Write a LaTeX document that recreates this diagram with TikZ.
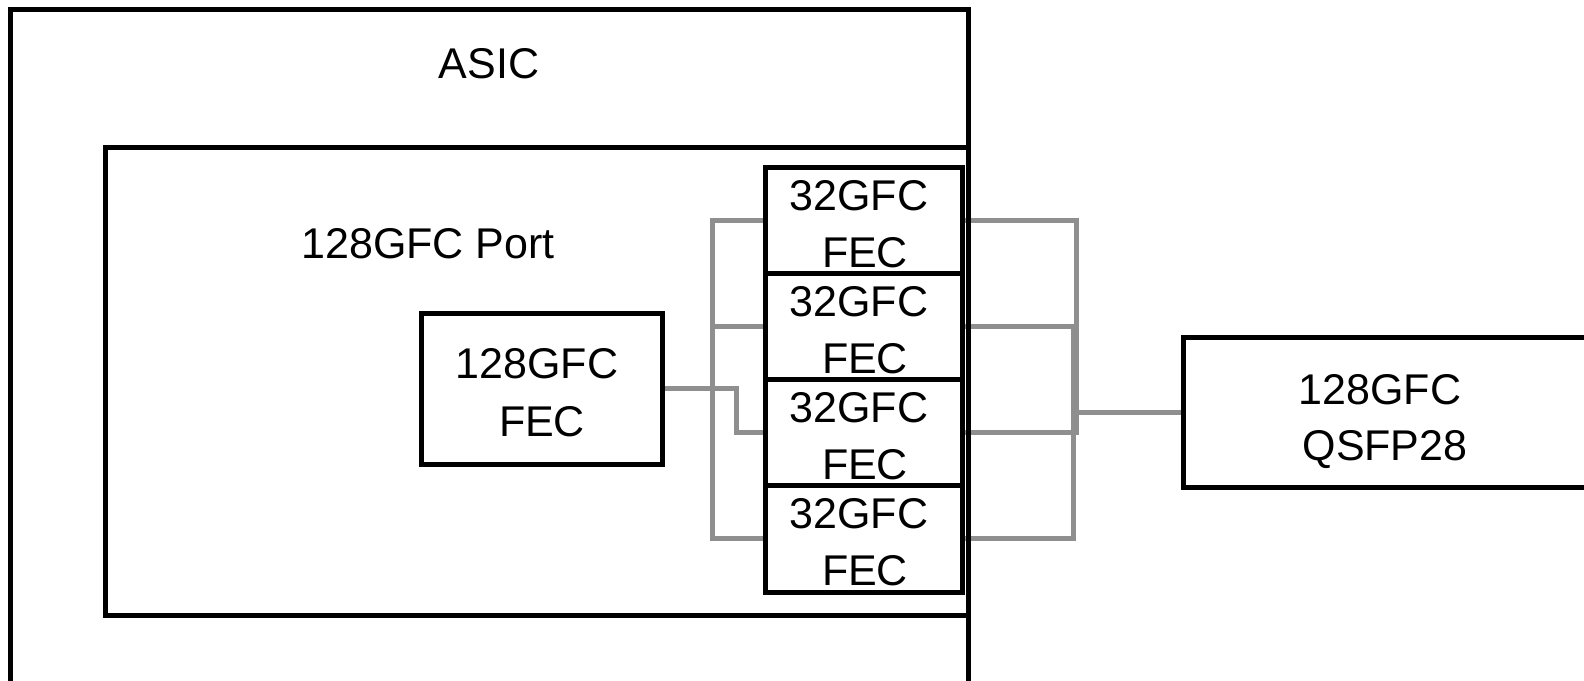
\documentclass[tikz,border=0pt]{standalone}
\usepackage{fontspec}
\setmainfont{Liberation Sans}
\usetikzlibrary{backgrounds}
\definecolor{wiregray}{RGB}{143,143,143}
\begin{document}
\begin{tikzpicture}[x=1pt,y=-1pt,
  box/.style={draw=black, line width=5pt, rectangle, inner sep=0pt, outer sep=0pt},
  wire/.style={draw=wiregray, line width=5pt},
  txt/.style={font=\fontsize{43}{52}\selectfont, inner sep=0pt, anchor=base}]
\useasboundingbox (0,0) rectangle (1584,680);
% boxes
\node[box, minimum width=958, minimum height=700] (asic) at (489.5,359.5) {};
\node[box, minimum width=863.5, minimum height=468] (port) at (536.75,381) {};
\node[box, minimum width=241, minimum height=151] (fec128) at (541.5,388.5) {};
\foreach \i [evaluate=\i as \yc using 220.125+106.25*(\i-1)] in {1,...,4}
  \node[box, minimum width=197, minimum height=106.25] (f\i) at (863.5,\yc) {};
\node[box, minimum width=420, minimum height=150] (qsfp) at (1393,412) {};
% texts
\node[txt] (tasic) at (489,78) {ASIC};
\node[txt] (tport) at (428,258) {128GFC Port};
\node[txt] (tbig1) at (537,378) {128GFC};
\node[txt] (tbig2) at (542,436) {FEC};
\foreach \i [evaluate=\i as \ya using 210+106.25*(\i-1),
             evaluate=\i as \yb using 267+106.25*(\i-1)] in {1,...,4}{
  \node[txt] (ta\i) at (859,\ya) {32GFC};
  \node[txt] (tb\i) at (865,\yb) {FEC};
}
\node[txt] (tq1) at (1380,404) {128GFC};
\node[txt] (tq2) at (1385,460) {QSFP28};
% wires
\coordinate (lbus) at (712,0);
\coordinate (rb1) at (1076,0);
\coordinate (rb2) at (1073,0);
\coordinate (rj) at (1074,0);
\begin{pgfonlayer}{background}
\draw[wire] (f1.west) -- (f1.west -| lbus) -- (f4.west -| lbus) -- (f4.west);
\draw[wire] (f2.west) -- (f2.west -| lbus);
\draw[wire] (fec128.east) -- ++(74,0) |- (f3.west);
\draw[wire] (f1.east) -- (f1.east -| rb1) -- (f3.east -| rb1) -- (f3.east);
\draw[wire] (f2.east) -- (f2.east -| rb2) -- (f4.east -| rb2) -- (f4.east);
\draw[wire] (qsfp.west -| rj) -- (qsfp.west);
\end{pgfonlayer}
\end{tikzpicture}
\end{document}
